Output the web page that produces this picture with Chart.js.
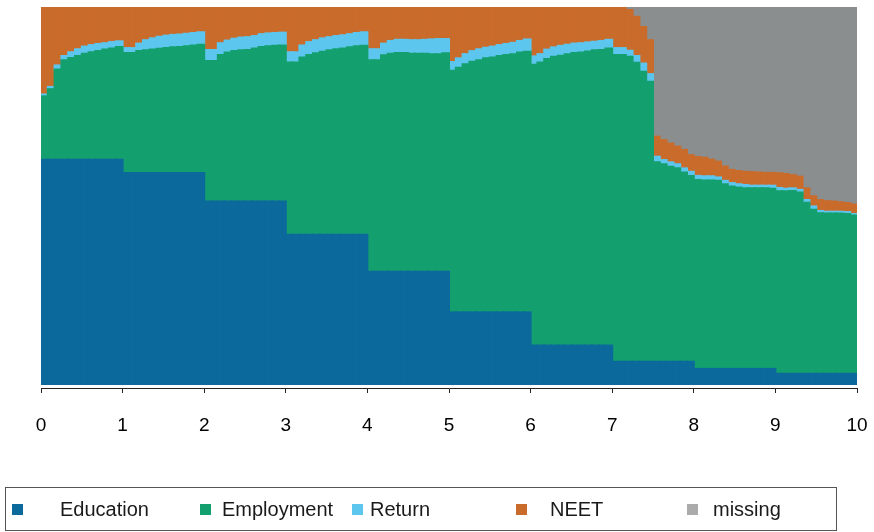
<!DOCTYPE html>
<html>
<head>
<meta charset="utf-8">
<script src="https://cdn.jsdelivr.net/npm/chart.js@4.4.1/dist/chart.umd.min.js"></script>
<style>
html,body{margin:0;padding:0;background:#fff;}
#wrap{width:874px;height:532px;position:relative;}
</style>
</head>
<body>
<div id="wrap"><canvas id="c" width="874" height="532"></canvas></div>
<script>
// Month index within the 10-year window (120 monthly time points)
const months = Array.from({length:120},(_,i)=>i);
const yearTickLabels = ['0','1','2','3','4','5','6','7','8','9','10'];
const seriesNames = ['Education','Employment','Return','NEET','missing'];

// Percent of sequences in each state per month
const education = [
59.5,59.5,59.5,59.5,59.5,59.5,59.5,59.5,59.5,59.5,59.5,59.5,
56.0,56.0,56.0,56.0,56.0,56.0,56.0,56.0,56.0,56.0,56.0,56.0,
48.4,48.4,48.4,48.4,48.4,48.4,48.4,48.4,48.4,48.4,48.4,48.4,
39.6,39.6,39.6,39.6,39.6,39.6,39.6,39.6,39.6,39.6,39.6,39.6,
29.8,29.8,29.8,29.8,29.8,29.8,29.8,29.8,29.8,29.8,29.8,29.8,
19.0,19.0,19.0,19.0,19.0,19.0,19.0,19.0,19.0,19.0,19.0,19.0,
10.2,10.2,10.2,10.2,10.2,10.2,10.2,10.2,10.2,10.2,10.2,10.2,
5.9,5.9,5.9,5.9,5.9,5.9,5.9,5.9,5.9,5.9,5.9,5.9,
4.0,4.0,4.0,4.0,4.0,4.0,4.0,4.0,4.0,4.0,4.0,4.0,
2.7,2.7,2.7,2.7,2.7,2.7,2.7,2.7,2.7,2.7,2.7,2.7];
const employment = [
16.8,18.7,23.9,26.4,27.0,27.5,28.1,28.5,28.8,29.2,29.5,29.9,
31.8,31.8,32.3,32.5,32.7,32.9,33.1,33.3,33.4,33.6,33.8,34.0,
37.3,37.3,38.9,39.5,39.9,40.1,40.2,40.6,41.0,41.2,41.3,41.4,
45.7,45.7,47.0,47.7,48.1,48.5,48.9,49.2,49.4,49.7,50.0,50.1,
56.1,56.1,57.4,57.8,58.0,58.0,57.8,57.8,57.8,57.7,57.7,57.9,
64.1,64.9,65.8,66.5,66.9,67.4,67.6,68.0,68.3,68.5,68.9,69.1,
74.5,75.1,76.0,76.6,76.9,77.3,77.6,77.7,78.0,78.3,78.4,78.8,
81.4,81.4,80.9,79.3,76.9,74.3,52.9,52.4,51.7,51.3,50.2,49.3,
50.1,50.0,50.0,49.9,49.0,48.4,48.1,47.9,47.9,47.9,47.9,47.8,
48.4,48.4,48.5,48.1,45.4,43.5,42.6,42.5,42.5,42.5,42.4,42.0];
const returnState = [
0.5,0.6,1.1,1.1,1.5,1.8,1.9,1.9,1.9,1.7,1.7,1.5,
1.3,1.3,2.0,2.7,3.0,3.2,3.3,3.3,3.3,3.3,3.3,3.3,
2.9,2.9,3.1,3.2,3.3,3.4,3.4,3.3,3.4,3.4,3.4,3.4,
2.7,2.7,3.2,3.4,3.5,3.6,3.5,3.5,3.5,3.5,3.5,3.6,
2.9,2.9,3.1,3.4,3.5,3.5,3.6,3.6,3.7,3.9,4.0,3.8,
2.3,2.5,2.7,2.8,2.9,2.8,2.9,2.9,2.9,3.0,3.1,3.3,
2.2,2.2,2.5,2.5,2.6,2.5,2.5,2.5,2.4,2.3,2.4,2.3,
1.8,1.8,1.6,1.8,2.2,2.0,1.5,1.1,1.2,1.1,1.1,1.1,
1.1,1.1,1.1,0.9,0.9,0.9,0.9,0.9,0.7,0.7,0.7,0.8,
0.9,0.7,0.7,0.7,0.7,0.9,0.6,0.5,0.5,0.5,0.5,0.4];
const neet = [
23.1,21.1,15.5,12.9,11.9,11.1,10.5,10.1,9.8,9.6,9.3,9.0,
10.8,10.8,9.6,8.8,8.2,7.9,7.6,7.4,7.2,7.1,6.9,6.7,
11.4,11.4,9.6,8.9,8.5,8.2,8.0,7.7,7.2,7.0,6.9,6.9,
12.0,12.0,10.3,9.4,8.8,8.3,8.0,7.8,7.5,7.2,7.0,6.7,
11.1,11.1,9.6,9.0,8.8,8.8,8.8,8.8,8.7,8.6,8.5,8.5,
14.6,13.6,12.6,11.7,11.1,10.8,10.4,10.1,9.8,9.5,9.0,8.6,
13.2,12.6,11.4,10.8,10.3,10.1,9.8,9.6,9.5,9.3,9.0,8.8,
11.0,10.8,10.8,10.4,9.7,9.0,5.3,5.3,5.0,4.7,4.9,4.4,
5.0,4.9,4.4,4.2,3.8,3.5,3.5,3.5,3.6,3.5,3.4,3.4,
3.9,3.9,3.5,3.5,3.1,2.7,2.9,2.8,2.7,2.5,2.4,2.5];
const missing = [
0,0,0,0,0,0,0,0,0,0,0,0,
0,0,0,0,0,0,0,0,0,0,0,0,
0,0,0,0,0,0,0,0,0,0,0,0,
0,0,0,0,0,0,0,0,0,0,0,0,
0,0,0,0,0,0,0,0,0,0,0,0,
0,0,0,0,0,0,0,0,0,0,0,0,
0,0,0,0,0,0,0,0,0,0,0,0,
0,0.1,0.8,2.6,5.2,8.8,34.4,35.3,36.2,37.1,37.9,39.3,
39.8,40.1,40.6,41.0,42.4,43.2,43.5,43.7,43.9,44.0,44.0,44.1,
44.2,44.4,44.6,45.0,48.1,50.3,51.2,51.5,51.6,51.8,52.1,52.5];

const colors = ['#0b699c','#14a06e','#5cc6ef','#c96b2b','#8b8e8f'];
const legendColors = ['#0b699c','#14a06e','#5cc6ef','#c96b2b','#ababab'];
const legendBoxX = [12, 200, 352, 516, 687];
const legendTextX = [60, 222, 370, 550, 713];

const seriesData = [education, employment, returnState, neet, missing];

const legendPlugin = {
  id: 'boxLegend',
  afterDraw(chart) {
    const ctx = chart.ctx;
    ctx.save();
    ctx.strokeStyle = '#555';
    ctx.lineWidth = 1;
    ctx.strokeRect(5.5, 487.5, 831, 43);
    ctx.font = '20px "Liberation Sans", Arial, sans-serif';
    ctx.textBaseline = 'middle';
    chart.data.datasets.forEach((ds, i) => {
      ctx.fillStyle = legendColors[i];
      ctx.fillRect(legendBoxX[i], 504, 11, 11);
      ctx.fillStyle = '#1a1a1a';
      ctx.fillText(ds.label, legendTextX[i], 510);
    });
    ctx.restore();
  }
};

new Chart(document.getElementById('c'), {
  type: 'bar',
  data: {
    labels: months,
    datasets: seriesNames.map((n, i) => ({
      label: n,
      data: seriesData[i],
      backgroundColor: colors[i],
      borderWidth: 0,
      inflateAmount: 1,
      barPercentage: 1,
      categoryPercentage: 1,
      xAxisID: 'x'
    }))
  },
  options: {
    responsive: false,
    animation: false,
    devicePixelRatio: 1,
    layout: { padding: { left: 41, right: 17, top: 7, bottom: 84 } },
    plugins: { legend: { display: false }, tooltip: { enabled: false } },
    scales: {
      x: { type: 'category', stacked: true, display: false, offset: true },
      xt: {
        type: 'linear', position: 'bottom', min: 0, max: 10, offset: false,
        afterFit(scale) { scale.height = 60; scale.paddingLeft = 0; scale.paddingRight = 0; },
        grid: { display: true, offset: false, drawOnChartArea: false, drawTicks: true, tickLength: 5, color: '#222', tickColor: '#222' },
        border: { display: true, color: '#222', width: 1 },
        ticks: {
          stepSize: 1, padding: 21, color: '#000', maxRotation: 0,
          font: { family: '"Liberation Sans", Arial, sans-serif', size: 19 },
          callback: (v) => yearTickLabels[v]
        }
      },
      y: { stacked: true, display: false, min: -1.061, max: 100 }
    }
  },
  plugins: [legendPlugin]
});
</script>
</body>
</html>
